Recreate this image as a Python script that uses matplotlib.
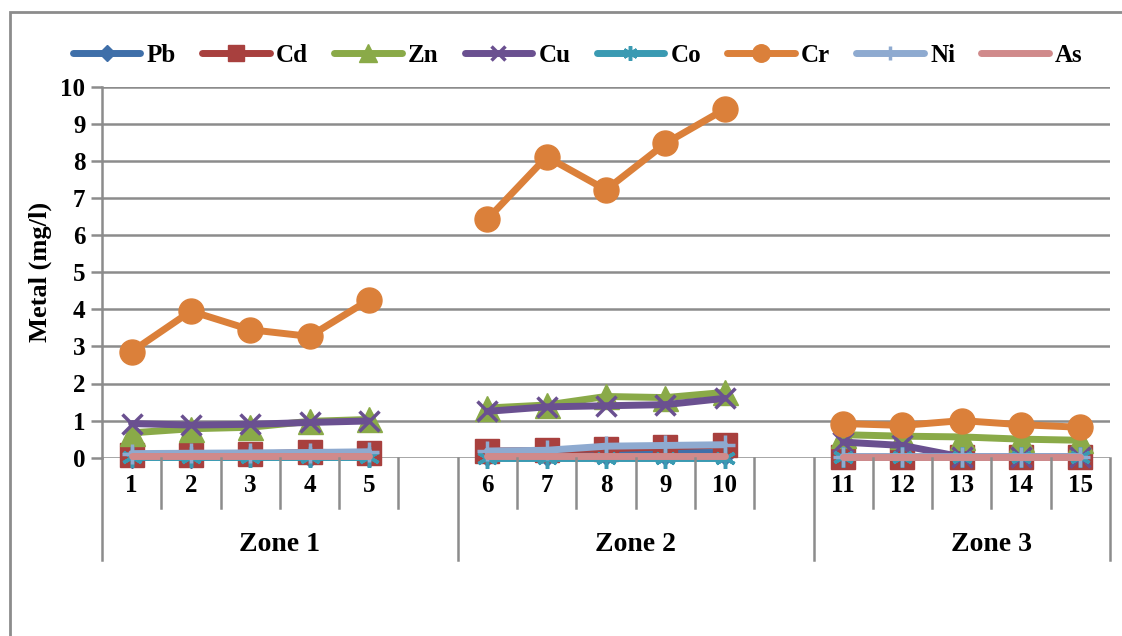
import numpy as np
import matplotlib
matplotlib.use('Agg')
from matplotlib import pyplot as plt
from matplotlib.patches import Rectangle

plt.rcParams['font.family'] = ['Liberation Serif', 'DejaVu Serif']
plt.rcParams['font.weight'] = 'bold'

# categorie (con uno spazio vuoto tra le zone)
sample_labels = ['1', '2', '3', '4', '5', '',
                 '6', '7', '8', '9', '10', '',
                 '11', '12', '13', '14', '15']
zones = ['Zone 1', 'Zone 2', 'Zone 3']
nan = np.nan

# valori (mg/l)
pb = [0.05, 0.05, 0.06, 0.06, 0.06, nan, 0.10, 0.10, 0.12, 0.14, 0.14, nan, 0.01, 0.01, 0.01, 0.01, 0.01]
cd = [0.08, 0.06, 0.09, 0.15, 0.12, nan, 0.18, 0.20, 0.24, 0.29, 0.34, nan, 0.02, 0.02, 0.02, 0.02, 0.02]
zn = [0.67, 0.78, 0.82, 0.98, 1.03, nan, 1.34, 1.42, 1.65, 1.62, 1.76, nan, 0.62, 0.58, 0.56, 0.50, 0.47]
cu = [0.92, 0.88, 0.90, 0.95, 0.99, nan, 1.25, 1.37, 1.40, 1.43, 1.60, nan, 0.42, 0.33, 0.02, 0.02, 0.02]
co = [0.02, 0.02, 0.02, 0.02, 0.02, nan, 0.00, 0.00, 0.00, 0.00, 0.00, nan, 0.01, 0.01, 0.01, 0.01, 0.01]
cr = [2.86, 3.95, 3.45, 3.27, 4.25, nan, 6.43, 8.11, 7.22, 8.47, 9.39, nan, 0.92, 0.87, 1.00, 0.89, 0.82]
ni = [0.11, 0.12, 0.13, 0.14, 0.16, nan, 0.18, 0.20, 0.31, 0.33, 0.35, nan, 0.03, 0.03, 0.03, 0.03, 0.03]
as_ = [0.04, 0.04, 0.04, 0.04, 0.04, nan, 0.04, 0.04, 0.04, 0.04, 0.04, nan, 0.03, 0.03, 0.03, 0.03, 0.03]

series = [
    ('Pb', pb, '#3f6fa9', 'D', 12),
    ('Cd', cd, '#a8403e', 's', 17),
    ('Zn', zn, '#8aaa48', '^', 18),
    ('Cu', cu, '#6a5090', 'x', 15),
    ('Co', co, '#3a9ab2', (6, 2, 0), 15),
    ('Cr', cr, '#db803a', 'o', 18),
    ('Ni', ni, '#8eaad0', '+', 15),
    ('As', as_, '#d08a8b', None, 0),
]

grey = '#8c8c8c'
fs = 18
W, H = 1122, 636
fig = plt.figure(figsize=(W / 100, H / 100), dpi=100)

# bordo esterno del grafico
fig.patches.append(Rectangle((10 / W, -0.1), 1.2, 1.1 - 12 / H,
                             transform=fig.transFigure, fill=False,
                             edgecolor=grey, lw=2))

ax = fig.add_axes([102 / W, 178.3 / H, 1008 / W, 371 / H])
x = np.arange(len(sample_labels))

for name, vals, col, mk, ms in series:
    kw = dict(color=col, lw=5, label=name, clip_on=False, solid_capstyle='round')
    if mk is not None:
        kw.update(marker=mk, markersize=ms, markerfacecolor=col, markeredgecolor=col)
        if mk in ('x', '+') or isinstance(mk, tuple):
            kw.update(markeredgewidth=2.5)
    ax.plot(x, vals, **kw)

ax.set_xlim(-0.5, len(sample_labels) - 0.5)
ax.set_ylim(0, 10)
ax.set_yticks(range(0, 11))
ax.yaxis.grid(True, color=grey, lw=1.8)
ax.set_axisbelow(True)
for s in ['top', 'right', 'bottom']:
    ax.spines[s].set_visible(False)
ax.spines['left'].set_color(grey)
ax.spines['left'].set_linewidth(1.8)
ax.tick_params(axis='y', length=8, width=1.8, color=grey, labelsize=fs, pad=4)
ax.set_ylabel('Metal (mg/l)', fontsize=fs + 1, fontweight='bold', labelpad=6)

# asse delle categorie a due livelli
ax.set_xticks(x)
ax.set_xticklabels(sample_labels, fontsize=fs, fontweight='bold')
ax.tick_params(axis='x', length=0, pad=12)

trans = ax.get_xaxis_transform()
px = 1 / 371  # un pixel in coordinate dell'asse
for b in np.arange(0.5, len(sample_labels) - 0.5):
    if b in (5.5, 11.5):
        continue
    ax.plot([b, b], [0, -50 * px], color=grey, lw=1.8, transform=trans, clip_on=False)
for b in [-0.5, 5.5, 11.5, 16.5]:
    ax.plot([b, b], [0, -102 * px], color=grey, lw=1.8, transform=trans, clip_on=False)
for i, z in enumerate(zones):
    ax.text(6 * i + 2.5, -87 * px, z, transform=trans, ha='center', va='center',
            fontsize=fs + 2, fontweight='bold')

fig.legend(loc='center', bbox_to_anchor=(0.515, 1 - 55 / H), ncol=8, frameon=False,
           handlelength=2.7, handletextpad=0.25, columnspacing=1.05,
           numpoints=1, markerscale=0.7, prop={'weight': 'bold', 'size': fs})

fig.savefig('out.png', dpi=100)
